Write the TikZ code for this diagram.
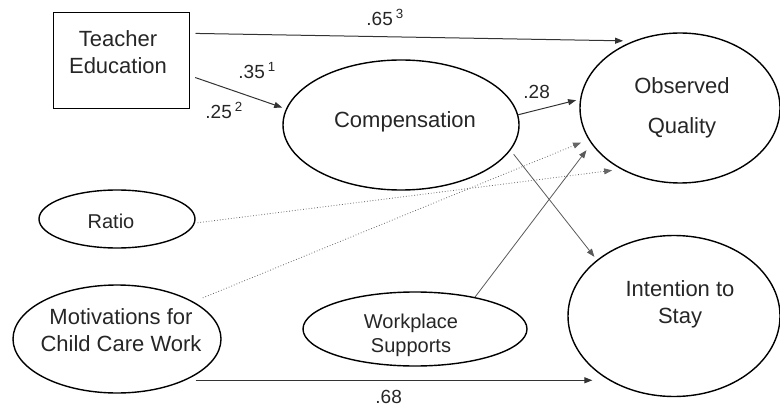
\documentclass[tikz,border=0pt]{standalone}
\usepackage{fontspec}
\setmainfont{Liberation Sans}
\usetikzlibrary{arrows.meta,shapes.geometric}

\begin{document}
\begin{tikzpicture}[x=0.5pt, y=-0.5pt, >={Triangle[length=4pt,width=3pt]},
    oval/.style={draw, ellipse, line width=0.7pt, inner sep=0pt},
    txt/.style={align=center, font=\fontsize{11}{13.4}\selectfont, text=black!85},
    smalltxt/.style={align=center, font=\fontsize{10}{12}\selectfont, text=black!85},
    coef/.style={anchor=base west, inner sep=0pt, font=\fontsize{9.5}{11}\selectfont, text=black!85},
    path/.style={->, line width=0.5pt, black!80},
    link/.style={->, line width=0.4pt, black!65},
    weak/.style={->, line width=0.4pt, black!60, densely dotted}]
    \useasboundingbox (0,0) rectangle (780,406);

    % variables
    \node[draw, line width=0.5pt, minimum width=68pt, minimum height=48pt] (tedu) at (121,61) {};
    \node[oval, minimum width=118pt, minimum height=65pt] (comp) at (401,125) {};
    \node[oval, minimum width=100pt, minimum height=75pt] (obs) at (680,108) {};
    \node[oval, minimum width=78pt, minimum height=29pt] (ratio) at (117,219) {};
    \node[oval, minimum width=104pt, minimum height=54pt] (motiv) at (117,339) {};
    \node[oval, minimum width=112pt, minimum height=37pt] (work) at (415,329) {};
    \node[oval, minimum width=106pt, minimum height=80.5pt] (int) at (674,316) {};

    \node[txt] (tedutxt) at (118,52.5) {Teacher\\Education};
    \node[txt] (comptxt) at (405,122) {Compensation};
    \node[txt] (obstxt) at (682,108) {Observed\\[6.6pt]Quality};
    \node[smalltxt] (ratiotxt) at (111,221) {Ratio};
    \node[txt] (motivtxt) at (121,330.5) {Motivations for\\Child Care Work};
    \node[smalltxt] (worktxt) at (411,335) {Workplace\\Supports};
    \node[txt] (inttxt) at (680,304.5) {Intention to\\Stay};

    % paths
    \draw[path, shorten <=3pt, shorten >=5pt] (tedu.22) -- (obs.125);
    \draw[path, shorten <=3pt, shorten >=2pt] (tedu.-12) -- (comp.172);
    \draw[path, shorten >=2pt] (comp.5) -- (obs.175);
    \draw[link, shorten <=2.5pt, shorten >=2pt] (comp.-13) -- (int.144);
    \draw[link, shorten >=4pt] (work.28) -- (obs.202);
    \draw[weak, shorten <=5pt, shorten >=4pt] (motiv.26) -- (obs.199);
    \draw[weak, shorten <=1.3pt, shorten >=4.4pt] (ratio.-3) -- (obs.226);
    \draw[path, shorten <=5pt, shorten >=7.8pt] (motiv.-31) -- (motiv.-31 -| int.224);

    % coefficients
    \node[coef] (b65) at (366,26) {.65\,\textsuperscript{3}};
    \node[coef] (b35) at (238,79) {.35\,\textsuperscript{1}};
    \node[coef] (b25) at (205,119) {.25\,\textsuperscript{2}};
    \node[coef] (b28) at (523,99) {.28};
    \node[coef] (b68) at (375,403) {.68};
\end{tikzpicture}
\end{document}
